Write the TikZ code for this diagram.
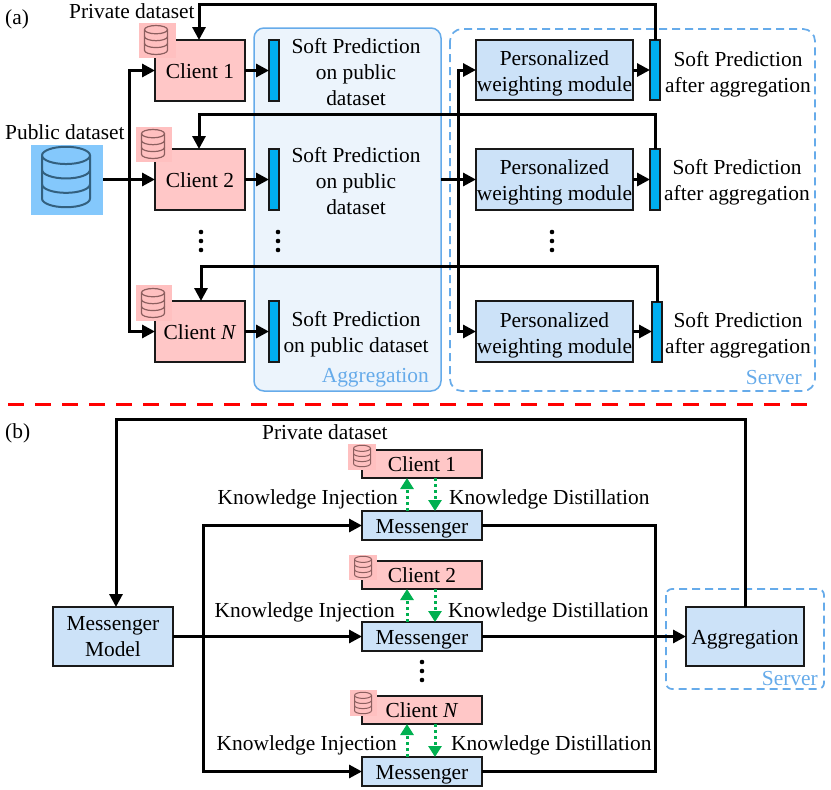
\documentclass[tikz,border=0pt]{standalone}
\usepackage{fontspec}
\setmainfont{Liberation Serif}
\usetikzlibrary{arrows.meta}
\definecolor{clientred}{HTML}{FFC7C7}
\definecolor{iconred}{HTML}{FFC0C0}
\definecolor{modblue}{HTML}{CCE2F8}
\definecolor{barblue}{HTML}{00AEEF}
\definecolor{aggfill}{HTML}{ECF4FC}
\definecolor{frameblue}{HTML}{66ABEA}
\definecolor{pubblue}{HTML}{84C8FC}
\definecolor{gr}{HTML}{00B050}
\definecolor{iconln}{HTML}{8C5F5F}
\definecolor{publn}{HTML}{33607F}
\newcommand{\fs}{\fontsize{21.4}{26}\selectfont}
\tikzset{
  x=1pt,y=-1pt,
  txt/.style={font=\fs,inner sep=0pt,align=center,text=black},
  oneline/.style={text height=19pt,text depth=4pt},
  client/.style={draw=black!90,line width=1.7pt,fill=clientred,inner sep=0pt,outer sep=0pt,font=\fs,oneline},
  module/.style={draw=black!90,line width=1.7pt,fill=modblue,inner sep=0pt,outer sep=0pt,align=center,font=\fs},
  msg/.style={module,oneline},
  barbox/.style={draw=black!90,line width=1.7pt,fill=barblue,inner sep=0pt,outer sep=0pt,minimum width=10pt},
  arr/.style={line width=3pt,black,-{Triangle[length=13pt,width=13pt]}},
  lin/.style={line width=3pt,black},
  garr/.style={line width=3pt,gr,dash pattern=on 3pt off 3pt,-{Triangle[length=11pt,width=13pt,sep=0pt]}},
  frm/.style={frameblue,line width=1.7pt,dash pattern=on 8pt off 5pt},
  framelbl/.style={font=\fs,text=frameblue,inner sep=0pt},
  vdots/.pic={\fill (0,-9) circle (2.3pt) (0,0) circle (2.3pt) (0,9) circle (2.3pt);},
  pics/dbicon/.style n args={3}{code={
    \begin{scope}[scale=#1,line width=#2,draw=#3]
      \draw (-10,-9) -- (-10,9) arc[start angle=180,end angle=0,x radius=10,y radius=3.6] -- (10,-9);
      \draw (-10,-9) arc[start angle=180,end angle=0,x radius=10,y radius=3.6] arc[start angle=0,end angle=-180,x radius=10,y radius=3.6];
      \draw (-10,-3) arc[start angle=180,end angle=0,x radius=10,y radius=3.6];
      \draw (-10,3) arc[start angle=180,end angle=0,x radius=10,y radius=3.6];
    \end{scope}}},
}
\newcommand{\rectnode}[7]{\node[#1,minimum width=#4-#3,minimum height=#6-#5,anchor=north west] (#2) at (#3,#5) {#7};}
\begin{document}
\begin{tikzpicture}
\useasboundingbox (0,0) rectangle (831,790);
\fill[white] (0,0) rectangle (831,790);

% (a) frames
\draw[frameblue,line width=1.5pt,fill=aggfill,rounded corners=10pt] (254,28) rectangle (441,391);
\draw[frm,rounded corners=12pt] (450,29) rectangle (815,391);
\node[framelbl,anchor=base east] (agglbl) at (429,382) {Aggregation};
\node[framelbl,anchor=base east] (srvlbl) at (802,384) {Server};

\node[txt,anchor=base west] (lblA) at (5,24) {(a)};
\node[txt,anchor=base west] (privA) at (69,18) {Private dataset};
\node[txt,anchor=base west] (pubA) at (5,139) {Public dataset};

% public dataset
\node[fill=pubblue,minimum width=72pt,minimum height=70pt,inner sep=0pt,outer sep=0pt,anchor=north west] (pub) at (31,145) {};
\pic at (66,177) {dbicon={2.4}{2pt}{publn}};

% clients
\rectnode{client}{c1}{155}{245}{40}{101}{Client 1}
\rectnode{client}{c2}{155}{245}{149}{210}{Client 2}
\rectnode{client}{c3}{155}{245}{301}{362}{Client \textit{N}}

% icons
\fill[iconred] (139,23) rectangle (176,58);
\pic at (156,40) {dbicon={1.15}{1.2pt}{iconln}};
\fill[iconred] (136,127) rectangle (172,162);
\pic at (153,144) {dbicon={1.15}{1.2pt}{iconln}};
\fill[iconred] (136,285) rectangle (172,321);
\pic at (153,303) {dbicon={1.15}{1.2pt}{iconln}};

% bars
\node[barbox,minimum height=61pt,anchor=north west] (b1) at (269,40) {};
\node[barbox,minimum height=61pt,anchor=north west] (b2) at (269,149) {};
\node[barbox,minimum height=61pt,anchor=north west] (b3) at (269,301) {};
\node[txt] (sp1) at (356,72) {Soft Prediction\\on public\\dataset};
\node[txt] (sp2) at (356,181) {Soft Prediction\\on public\\dataset};
\node[txt] (sp3) at (356,334) {Soft Prediction\\on public dataset};

% modules
\rectnode{module}{m1}{476}{633}{40}{100}{}
\rectnode{module}{m2}{476}{633}{149}{210}{}
\rectnode{module}{m3}{476}{633}{301}{362}{}
\node[txt] (m1t) at (554.5,73) {Personalized\\weighting module};
\node[txt] (m2t) at (554.5,182) {Personalized\\weighting module};
\node[txt] (m3t) at (554.5,335) {Personalized\\weighting module};
\node[barbox,minimum height=60pt,anchor=north west] (r1) at (650,40) {};
\node[barbox,minimum height=61pt,anchor=north west] (r2) at (650,149) {};
\node[barbox,minimum height=60pt,anchor=north west] (r3) at (652,302) {};
\node[txt] (sa1) at (738,74) {Soft Prediction\\after aggregation};
\node[txt] (sa2) at (737,182) {Soft Prediction\\after aggregation};
\node[txt] (sa3) at (738,335) {Soft Prediction\\after aggregation};

% connectors (a)
\coordinate (pubJ) at (129,179.5);
\coordinate (aggOut) at (441,179.5);
\coordinate (aggJ) at (458,179.5);
\draw[lin] (pub.east |- pubJ) -- (pubJ);
\draw[arr] (pubJ) -- (c2.west);
\draw[arr] (pubJ) |- (c1.west);
\draw[arr] (pubJ) |- (c3.west);
\draw[arr] (c1.east) -- (b1.west);
\draw[arr] (c2.east) -- (b2.west);
\draw[arr] (c3.east) -- (b3.west);
\draw[arr] (aggOut) -- (m2.west);
\draw[arr] (aggJ) |- (m1.west);
\draw[arr] (aggJ) |- (m3.west);
\draw[arr] (m1.east) -- (r1.west);
\draw[arr] (m2.east) -- (r2.west);
\draw[arr] (m3.east) -- (m3.east -| r3.west);
\draw[arr,line join=miter] (r1.north) -- ++(0,-36) -| (199,40);
\draw[arr,line join=miter] (r2.north) -- ++(0,-35) -| (199,149);
\draw[arr,line join=miter] (r3.north) -- ++(0,-36) -| (201,301);

\pic at (201,241) {vdots};
\pic at (278,241) {vdots};
\pic at (552,241) {vdots};

% separator
\draw[red,line width=3pt,dash pattern=on 16pt off 11pt] (8,404) -- (815,404);

% (b)
\node[txt,anchor=base west] (lblB) at (5,438) {(b)};
\node[txt,anchor=base west] (privB) at (262,439) {Private dataset};

\draw[frm,rounded corners=6pt] (666,589) rectangle (824,689);
\node[framelbl,anchor=base east] (srvB) at (818,685) {Server};

\rectnode{client}{d1}{362}{482}{450}{478}{Client 1}
\rectnode{client}{d2}{362}{482}{561}{589}{Client 2}
\rectnode{client}{d3}{362}{482}{696}{724}{Client \textit{N}}
\fill[iconred] (348,444) rectangle (376,470);
\pic at (362,456) {dbicon={0.85}{1pt}{iconln}};
\fill[iconred] (349,555) rectangle (377,580);
\pic at (363,567) {dbicon={0.85}{1pt}{iconln}};
\fill[iconred] (350,690) rectangle (377,716);
\pic at (363,703) {dbicon={0.85}{1pt}{iconln}};

\rectnode{msg}{e1}{362}{482}{511}{540}{Messenger}
\rectnode{msg}{e2}{362}{482}{622}{651}{Messenger}
\rectnode{msg}{e3}{362}{482}{757}{786}{Messenger}
\rectnode{module}{mm}{53}{173}{607}{666}{Messenger\\Model}
\rectnode{msg}{ag}{686}{804}{607}{666}{Aggregation}

\node[txt,anchor=base east] (ki1) at (398,504) {Knowledge Injection};
\node[txt,anchor=base west] (kd1) at (449,504) {Knowledge Distillation};
\node[txt,anchor=base east] (ki2) at (395,617) {Knowledge Injection};
\node[txt,anchor=base west] (kd2) at (448,617) {Knowledge Distillation};
\node[txt,anchor=base east] (ki3) at (397,750) {Knowledge Injection};
\node[txt,anchor=base west] (kd3) at (451,750) {Knowledge Distillation};

\draw[garr] (407,511) -- (407,478);
\draw[garr] (435,478) -- (435,511);
\draw[garr] (407,622) -- (407,589);
\draw[garr] (435,589) -- (435,622);
\draw[garr] (407,757) -- (407,724);
\draw[garr] (435,724) -- (435,757);

\coordinate (mmJ) at (203,636.5);
\coordinate (outJ) at (655,636.5);
\draw[arr] (mm.east |- e2.west) -- (e2.west);
\draw[arr] (mmJ) |- (e1.west);
\draw[arr] (mmJ) |- (e3.west);
\draw[lin] (e2.east) -- (outJ);
\draw[arr] (outJ) -- (outJ -| ag.west);
\draw[lin] (e1.east) -| (outJ);
\draw[lin] (e3.east) -| (outJ);
\draw[arr,line join=miter] (ag.north) |- (116,419) -- (116,607);
\pic at (422,671) {vdots};
\end{tikzpicture}
\end{document}
